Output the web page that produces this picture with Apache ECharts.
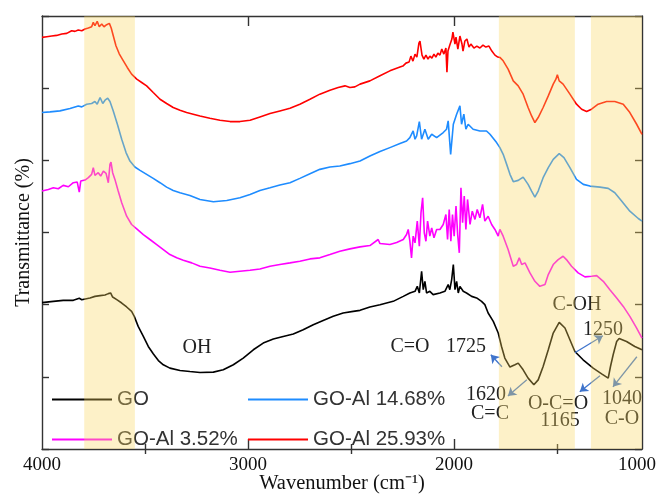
<!DOCTYPE html>
<html>
<head>
<meta charset="utf-8">
<script src="https://cdn.jsdelivr.net/npm/echarts@6/dist/echarts.min.js"></script>
<style>
  html, body { margin: 0; padding: 0; background: #fff; }
  #chart { width: 656px; height: 496px; }
</style>
</head>
<body>
<div id="chart"></div>
<script>
// FTIR spectra, stacked with vertical offsets: [wavenumber (cm-1), transmittance (a.u.)]
const GO = [
  [4000,2.028],[3994,2.032],[3945,2.046],[3897,2.06],[3848,2.06],[3819,2.088],[3807,2.069],
  [3767,2.093],[3743,2.115],[3718,2.125],[3694,2.134],[3678,2.153],[3667,2.162],[3657,2.106],
  [3637,2.069],[3613,2.023],[3589,1.968],[3565,1.907],[3552,1.838],[3533,1.699],[3508,1.56],
  [3484,1.421],[3460,1.319],[3435,1.226],[3411,1.167],[3379,1.121],[3330,1.088],[3282,1.074],
  [3233,1.06],[3168,1.065],[3120,1.097],[3071,1.167],[3023,1.26],[2974,1.375],[2926,1.468],
  [2877,1.523],[2829,1.56],[2780,1.593],[2732,1.653],[2683,1.722],[2635,1.782],[2586,1.838],
  [2538,1.884],[2489,1.907],[2456,1.921],[2408,1.968],[2359,2.0],[2295,2.046],[2246,2.115],
  [2214,2.162],[2189,2.185],[2178,2.254],[2168,2.162],[2157,2.463],[2149,2.208],[2141,2.324],
  [2133,2.162],[2117,2.185],[2101,2.139],[2068,2.162],[2044,2.185],[2028,2.278],[2020,2.208],
  [2011,2.347],[2003,2.556],[1995,2.208],[1987,2.324],[1979,2.162],[1971,2.254],[1955,2.185],
  [1939,2.162],[1914,2.115],[1890,2.093],[1866,2.046],[1850,2.0],[1834,1.884],[1809,1.768],
  [1785,1.607],[1769,1.421],[1753,1.26],[1728,1.135],[1704,1.167],[1688,1.19],[1664,1.097],
  [1640,0.982],[1612,0.889],[1591,0.958],[1567,1.143],[1542,1.375],[1518,1.607],[1489,1.754],
  [1461,1.676],[1437,1.514],[1413,1.351],[1373,1.236],[1324,1.121],[1283,1.042],[1251,0.982],
  [1240,1.143],[1227,1.306],[1210,1.49],[1198,1.532],[1162,1.49],[1122,1.421],[1087,1.375]
];
const GO_AL_352 = [
  [4000,3.574],[3969,3.597],[3945,3.62],[3921,3.606],[3897,3.653],[3872,3.634],[3848,3.69],
  [3829,3.699],[3819,3.56],[3812,3.713],[3791,3.727],[3775,3.76],[3759,3.806],[3751,3.899],
  [3743,3.792],[3727,3.829],[3715,3.782],[3702,3.851],[3689,3.819],[3678,3.69],[3670,3.944],
  [3665,3.976],[3657,3.829],[3646,3.736],[3630,3.574],[3613,3.412],[3589,3.226],[3565,3.111],
  [3540,3.051],[3508,2.972],[3476,2.903],[3443,2.833],[3411,2.764],[3379,2.694],[3346,2.649],
  [3314,2.616],[3273,2.579],[3233,2.532],[3185,2.509],[3136,2.477],[3087,2.449],[3039,2.463],
  [2990,2.477],[2942,2.495],[2893,2.532],[2845,2.556],[2796,2.579],[2748,2.602],[2699,2.634],
  [2651,2.649],[2602,2.694],[2554,2.74],[2505,2.773],[2456,2.801],[2408,2.819],[2368,2.903],
  [2359,2.847],[2311,2.833],[2278,2.861],[2246,2.903],[2230,2.972],[2222,3.042],[2214,2.879],
  [2206,2.649],[2198,2.949],[2189,2.857],[2178,3.157],[2168,2.81],[2160,3.274],[2152,3.482],
  [2144,2.996],[2136,2.879],[2128,3.157],[2117,2.949],[2108,3.065],[2097,2.926],[2084,3.042],
  [2068,3.042],[2052,3.111],[2039,3.25],[2031,2.903],[2023,3.319],[2015,2.879],[2007,3.25],
  [1999,2.949],[1990,3.365],[1982,2.972],[1974,2.718],[1966,3.621],[1958,3.135],[1950,3.504],
  [1942,3.042],[1934,3.458],[1922,3.111],[1911,3.296],[1898,3.181],[1887,3.319],[1874,3.204],
  [1861,3.389],[1850,3.157],[1834,3.226],[1817,3.111],[1801,3.042],[1785,2.949],[1777,3.042],
  [1761,2.949],[1737,2.764],[1712,2.532],[1696,2.556],[1683,2.649],[1671,2.556],[1655,2.579],
  [1631,2.44],[1607,2.324],[1583,2.254],[1558,2.278],[1542,2.417],[1518,2.556],[1494,2.625],
  [1470,2.671],[1454,2.625],[1429,2.532],[1397,2.44],[1364,2.385],[1332,2.393],[1307,2.403],
  [1275,2.324],[1243,2.208],[1210,2.093],[1178,1.976],[1146,1.838],[1113,1.676],[1087,1.538]
];
const GO_AL_1468 = [
  [4000,4.662],[3961,4.671],[3913,4.685],[3864,4.718],[3824,4.754],[3807,4.741],[3783,4.778],
  [3759,4.787],[3743,4.815],[3732,4.778],[3718,4.871],[3705,4.787],[3694,4.833],[3681,4.861],
  [3670,4.815],[3654,4.685],[3634,4.5],[3613,4.292],[3592,4.107],[3573,3.99],[3549,3.907],
  [3524,3.861],[3492,3.806],[3460,3.75],[3427,3.69],[3395,3.629],[3363,3.583],[3330,3.551],
  [3282,3.514],[3233,3.458],[3168,3.426],[3103,3.444],[3039,3.482],[2990,3.528],[2942,3.583],
  [2893,3.62],[2845,3.657],[2796,3.69],[2748,3.75],[2699,3.815],[2651,3.875],[2602,3.907],
  [2554,3.921],[2505,3.954],[2456,3.99],[2408,4.06],[2359,4.121],[2311,4.176],[2262,4.232],
  [2230,4.268],[2214,4.315],[2198,4.407],[2189,4.292],[2181,4.338],[2168,4.537],[2157,4.292],
  [2141,4.431],[2125,4.292],[2108,4.361],[2084,4.315],[2052,4.385],[2036,4.431],[2028,4.546],
  [2016,4.083],[2003,4.5],[1987,4.639],[1971,4.754],[1963,4.5],[1952,4.639],[1942,4.431],
  [1931,4.5],[1907,4.431],[1874,4.407],[1842,4.407],[1825,4.361],[1793,4.246],[1777,4.176],
  [1761,4.083],[1744,3.944],[1728,3.806],[1712,3.704],[1688,3.722],[1664,3.768],[1640,3.667],
  [1623,3.574],[1607,3.49],[1591,3.574],[1567,3.76],[1542,3.899],[1518,4.014],[1489,4.093],
  [1466,4.038],[1437,3.899],[1405,3.736],[1372,3.667],[1340,3.643],[1291,3.629],[1251,3.611],
  [1219,3.551],[1186,3.435],[1146,3.296],[1105,3.194],[1087,3.157]
];
const GO_AL_2593 = [
  [4000,5.704],[3977,5.713],[3953,5.722],[3929,5.731],[3904,5.75],[3880,5.759],[3856,5.796],
  [3840,5.787],[3824,5.806],[3807,5.796],[3791,5.819],[3775,5.833],[3759,5.851],[3751,5.912],
  [3743,5.865],[3732,5.926],[3722,5.851],[3710,5.889],[3699,5.851],[3686,5.879],[3673,5.898],
  [3664,5.833],[3654,5.726],[3641,5.588],[3625,5.476],[3605,5.379],[3586,5.287],[3565,5.194],
  [3540,5.125],[3516,5.079],[3492,5.032],[3460,4.94],[3427,4.847],[3395,4.787],[3363,4.732],
  [3330,4.694],[3298,4.662],[3266,4.639],[3233,4.615],[3185,4.583],[3136,4.556],[3087,4.537],
  [3039,4.537],[2990,4.556],[2942,4.602],[2893,4.648],[2845,4.685],[2796,4.722],[2748,4.778],
  [2699,4.847],[2651,4.917],[2602,4.972],[2562,5.009],[2529,5.032],[2505,5.009],[2481,5.018],
  [2456,5.056],[2408,5.101],[2359,5.171],[2311,5.24],[2262,5.292],[2248,5.306],[2233,5.347],
  [2218,5.361],[2209,5.444],[2199,5.375],[2189,5.472],[2180,5.431],[2170,5.625],[2165,5.653],
  [2155,5.458],[2146,5.403],[2136,5.458],[2126,5.403],[2117,5.444],[2107,5.417],[2097,5.472],
  [2088,5.431],[2078,5.486],[2068,5.458],[2059,5.542],[2049,5.472],[2039,5.556],[2034,5.222],
  [2029,5.514],[2020,5.597],[2010,5.681],[2005,5.778],[1995,5.611],[1990,5.708],[1981,5.542],
  [1971,5.722],[1961,5.611],[1956,5.514],[1947,5.653],[1937,5.681],[1927,5.569],[1918,5.611],
  [1903,5.556],[1889,5.583],[1874,5.556],[1859,5.597],[1845,5.569],[1830,5.583],[1816,5.514],
  [1801,5.458],[1787,5.431],[1777,5.426],[1761,5.379],[1737,5.264],[1712,5.101],[1688,5.032],
  [1664,4.917],[1640,4.732],[1623,4.615],[1607,4.524],[1591,4.593],[1567,4.732],[1542,4.893],
  [1518,5.056],[1505,5.125],[1498,5.185],[1489,5.101],[1470,5.056],[1437,4.917],[1405,4.778],
  [1380,4.708],[1356,4.676],[1332,4.708],[1300,4.778],[1259,4.815],[1219,4.815],[1178,4.778],
  [1146,4.662],[1113,4.5],[1087,4.361]
];

const seriesNames = ['GO', 'GO-Al 3.52%', 'GO-Al 14.68%', 'GO-Al 25.93%'];
const seriesColors = ['#000000', '#ff00ff', '#1e8cff', '#ff0000'];
const seriesData = [GO, GO_AL_352, GO_AL_1468, GO_AL_2593];

// Highlighted absorption regions [from, to] in cm-1
const bands = [[3795, 3549], [1782, 1413], [1335, 1087]];

// Axis range and ticks
const X_MAX = 4000, X_MIN = 1087;
const Y_MIN = 0, Y_MAX = 6;
const majorTicks = [3000, 2000];
const minorTicks = [3500, 2500, 1500];
const tickLabelPos = [4000, 3000, 2000, 1087];
const tickLabelText = ['4000', '3000', '2000', '{end|1000}'];

// Annotation arrows: [from, to] in data coordinates
const arrows = [
  [[1767, 1.139], [1821, 1.306]],
  [[1646, 0.958], [1738, 0.736]],
  [[1413, 1.333], [1277, 1.569]],
  [[1291, 1.014], [1389, 0.792]],
  [[1112, 1.278], [1228, 0.861]]
];

// Annotation texts: [label, x px, y px]
const notes = [
  ['OH', 197, 348], ['C=O', 410, 347], ['1725', 466, 347], ['C-OH', 577, 305],
  ['1250', 603, 330], ['1620', 486, 395], ['C=C', 490, 414], ['O-C=O', 558, 404],
  ['1165', 560, 421], ['1040', 622, 399], ['C-O', 622, 419]
];

const serif = 'Liberation Serif, Times New Roman, serif';
const sans = 'Liberation Sans, Arial, sans-serif';
const frame = { show: true, onZero: false, lineStyle: { color: '#333', width: 1.4 } };

function xAxisDef(position, ticks, len, withLabels) {
  return {
    type: 'value', position: position, inverse: true, min: X_MIN, max: X_MAX,
    axisLine: frame,
    splitLine: { show: false },
    axisTick: { show: true, inside: true, length: len, customValues: ticks,
                lineStyle: { color: '#333', width: 1.4 } },
    axisLabel: withLabels ? {
      show: true, customValues: tickLabelPos, margin: 7,
      fontFamily: serif, fontSize: 19, color: '#111',
      formatter: v => tickLabelText[tickLabelPos.indexOf(v)] ?? String(v),
      rich: { end: { fontFamily: serif, fontSize: 19, color: '#111', padding: [0, 10, 0, 0] } }
    } : { show: false },
    name: withLabels ? 'Wavenumber (cm\u207B\u00B9)' : '',
    nameLocation: 'middle', nameGap: 24, nameMoveOverlap: false,
    nameTextStyle: { fontFamily: serif, fontSize: 20.5, color: '#111' }
  };
}

function yAxisDef(position, withName) {
  return {
    type: 'value', position: position, min: Y_MIN, max: Y_MAX, interval: 1,
    axisLine: frame,
    splitLine: { show: false },
    axisTick: { show: true, inside: true, length: 7, lineStyle: { color: '#333', width: 1.4 } },
    axisLabel: { show: false },
    name: withName ? 'Transmittance (%)' : '',
    nameLocation: 'middle', nameGap: 8, nameRotate: 90, nameMoveOverlap: false,
    nameTextStyle: { fontFamily: serif, fontSize: 20, color: '#111' }
  };
}

const chart = echarts.init(document.getElementById('chart'), null, { renderer: 'canvas' });

const lineSeries = seriesNames.map((name, i) => ({
  name: name, type: 'line', data: seriesData[i],
  xAxisIndex: 0, yAxisIndex: 0,
  showSymbol: false, symbol: 'none', z: 2,
  lineStyle: { color: seriesColors[i], width: 1.6 },
  itemStyle: { color: seriesColors[i] }
}));

const arrowSeries = {
  name: 'arrows', type: 'line', data: [], xAxisIndex: 0, yAxisIndex: 0, z: 3,
  markLine: {
    silent: true, symbol: ['none', 'arrow'], symbolSize: 8, animation: false,
    label: { show: false },
    lineStyle: { color: '#3f74cc', width: 1.3, type: 'solid' },
    data: arrows.map(a => [{ coord: a[0] }, { coord: a[1] }])
  }
};

const bandSeries = {
  name: 'bands', type: 'custom', xAxisIndex: 0, yAxisIndex: 0, z: 10, silent: true,
  data: bands,
  renderItem: (params, api) => {
    const p0 = api.coord([api.value(0), Y_MAX]);
    const p1 = api.coord([api.value(1), Y_MIN]);
    return {
      type: 'rect',
      shape: { x: Math.min(p0[0], p1[0]), y: p0[1], width: Math.abs(p1[0] - p0[0]), height: p1[1] - p0[1] },
      style: { fill: 'rgba(250,214,95,0.34)' }
    };
  }
};

const legendCommon = {
  orient: 'vertical', icon: 'rect', itemWidth: 60, itemHeight: 2, itemGap: 19, padding: 0,
  textStyle: { fontFamily: sans, fontSize: 20.5, color: '#333' }
};

chart.setOption({
  animation: false,
  grid: { left: 42, right: 14, top: 16, bottom: 47, containLabel: false, outerBoundsMode: 'none' },
  xAxis: [
    xAxisDef('bottom', majorTicks, 10, true),
    Object.assign(xAxisDef('bottom', minorTicks, 5, false), { axisLine: { show: false } }),
    xAxisDef('top', majorTicks, 10, false),
    Object.assign(xAxisDef('top', minorTicks, 5, false), { axisLine: { show: false } })
  ],
  yAxis: [yAxisDef('left', true), yAxisDef('right', false)],
  legend: [
    Object.assign({ data: ['GO', 'GO-Al 3.52%'], left: 52, top: 389 }, legendCommon),
    Object.assign({ data: ['GO-Al 14.68%', 'GO-Al 25.93%'], left: 248, top: 389 }, legendCommon)
  ],
  graphic: notes.map(n => ({
    type: 'text', x: n[1], y: n[2], z: 1, silent: true,
    style: { text: n[0], align: 'center', verticalAlign: 'middle', font: '20px ' + serif, fill: '#222' }
  })),
  series: [...lineSeries, arrowSeries, bandSeries]
});
</script>
</body>
</html>
